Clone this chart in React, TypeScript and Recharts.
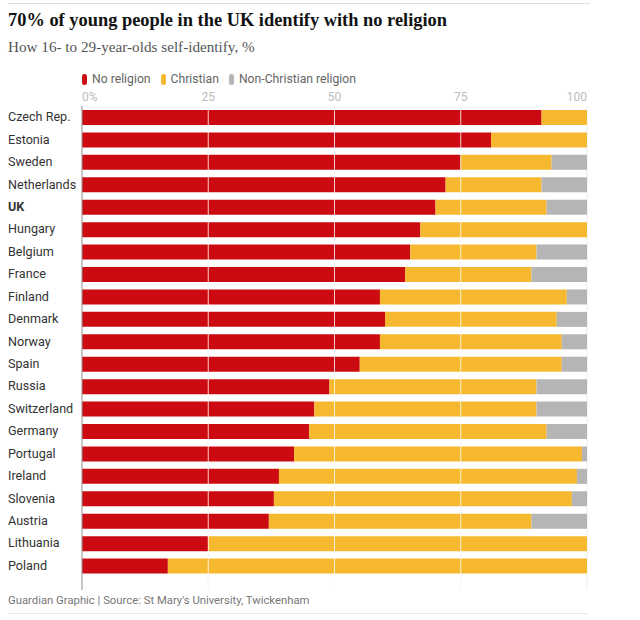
import { BarChart, Bar, XAxis, YAxis, CartesianGrid, ReferenceLine } from "recharts";

// values, % of 16-29 year olds
const countries = [
  "Czech Rep.", "Estonia", "Sweden", "Netherlands", "UK", "Hungary", "Belgium",
  "France", "Finland", "Denmark", "Norway", "Spain", "Russia", "Switzerland",
  "Germany", "Portugal", "Ireland", "Slovenia", "Austria", "Lithuania", "Poland",
];
const noReligion = [91, 81, 75, 72, 70, 67, 65, 64, 59, 60, 59, 55, 49, 46, 45, 42, 39, 38, 37, 25, 17];
const christian = [9, 19, 18, 19, 22, 33, 25, 25, 37, 34, 36, 40, 41, 44, 47, 57, 59, 59, 52, 75, 83];
const nonChristian = [0, 0, 7, 9, 8, 0, 10, 11, 4, 6, 5, 5, 10, 10, 8, 1, 2, 3, 11, 0, 0];
const xTicks = [0, 25, 50, 75, 100];

const data = countries.map((country, i) => ({
  country,
  none: noReligion[i],
  christian: christian[i],
  other: nonChristian[i],
}));

const RED = "#cc0a11";
const YELLOW = "#f5b82e";
const GREY = "#b5b5b5";
const SANS = "Roboto, 'Noto Sans', sans-serif";
const SERIF = "'Liberation Serif', 'DejaVu Serif', serif";

function CountryTick({ y, payload }: any) {
  return (
    <text
      x={0}
      y={y}
      dy={4}
      textAnchor="start"
      fontFamily={SANS}
      fontSize={12.6}
      fontWeight={payload.value === "UK" ? 700 : 400}
      fill="#333"
    >
      {payload.value}
    </text>
  );
}

function PctTick({ x, y, payload }: any) {
  const v = payload.value;
  const anchor = v === 0 ? "start" : v === 100 ? "end" : "middle";
  return (
    <text x={x} y={y} dy={-3} textAnchor={anchor} fontFamily={SANS} fontSize={12} fill="#bbb">
      {v === 0 ? "0%" : v}
    </text>
  );
}

function LegendItem({ color, label }: { color: string; label: string }) {
  return (
    <span style={{ display: "inline-flex", alignItems: "center", marginRight: 10 }}>
      <span
        style={{
          display: "inline-block",
          width: 5,
          height: 11,
          borderRadius: 3,
          background: color,
          marginRight: 5,
        }}
      />
      {label}
    </span>
  );
}

export default function App() {
  return (
    <div style={{ position: "absolute", left: 0, top: 0, width: 640, height: 620, background: "#fff" }}>
      <div style={{ position: "absolute", left: 8, top: 3, width: 582, height: 1, background: "#dedede" }} />
      <div
        style={{
          position: "absolute",
          left: 8,
          top: 10,
          fontFamily: SERIF,
          fontWeight: 700,
          fontSize: 18.4,
          color: "#121212",
          whiteSpace: "nowrap",
        }}
      >
        70% of young people in the UK identify with no religion
      </div>
      <div
        style={{
          position: "absolute",
          left: 8,
          top: 38,
          fontFamily: SERIF,
          fontSize: 15.2,
          color: "#555",
          whiteSpace: "nowrap",
        }}
      >
        How 16- to 29-year-olds self-identify, %
      </div>
      <div
        style={{
          position: "absolute",
          left: 82,
          top: 72,
          fontFamily: SANS,
          fontSize: 12.2,
          color: "#666",
          whiteSpace: "nowrap",
          display: "flex",
        }}
      >
        <LegendItem color={RED} label="No religion" />
        <LegendItem color={YELLOW} label="Christian" />
        <LegendItem color={GREY} label="Non-Christian religion" />
      </div>

      <div style={{ position: "absolute", left: 8, top: 86 }}>
        <BarChart
          width={600}
          height={504}
          data={data}
          layout="vertical"
          margin={{ top: 0, right: 21, bottom: 0, left: 0 }}
          barSize={15}
        >
          <CartesianGrid vertical horizontal={false} stroke="#ececec" />
          <ReferenceLine x={0} stroke="#999" />
          <XAxis
            type="number"
            orientation="top"
            domain={[0, 100]}
            ticks={xTicks}
            axisLine={false}
            tickLine={false}
            tickSize={0}
            height={20}
            tick={<PctTick />}
          />
          <YAxis
            type="category"
            dataKey="country"
            width={74}
            axisLine={false}
            tickLine={false}
            padding={{ top: 0, bottom: 13 }}
            tick={<CountryTick />}
            interval={0}
          />
          <Bar dataKey="none" stackId="a" fill={RED} isAnimationActive={false} />
          <Bar dataKey="christian" stackId="a" fill={YELLOW} isAnimationActive={false} />
          <Bar dataKey="other" stackId="a" fill={GREY} isAnimationActive={false} />
          {xTicks.slice(1, 4).map((t) => (
            <ReferenceLine key={t} x={t} stroke="#fff" strokeOpacity={0.8} />
          ))}
        </BarChart>
      </div>

      <div
        style={{
          position: "absolute",
          left: 8,
          top: 594,
          fontFamily: SANS,
          fontSize: 11.3,
          color: "#777",
          whiteSpace: "nowrap",
        }}
      >
        Guardian Graphic | Source: St Mary's University, Twickenham
      </div>
      <div style={{ position: "absolute", left: 8, top: 613, width: 580, height: 1, background: "#e6e6e6" }} />
    </div>
  );
}
